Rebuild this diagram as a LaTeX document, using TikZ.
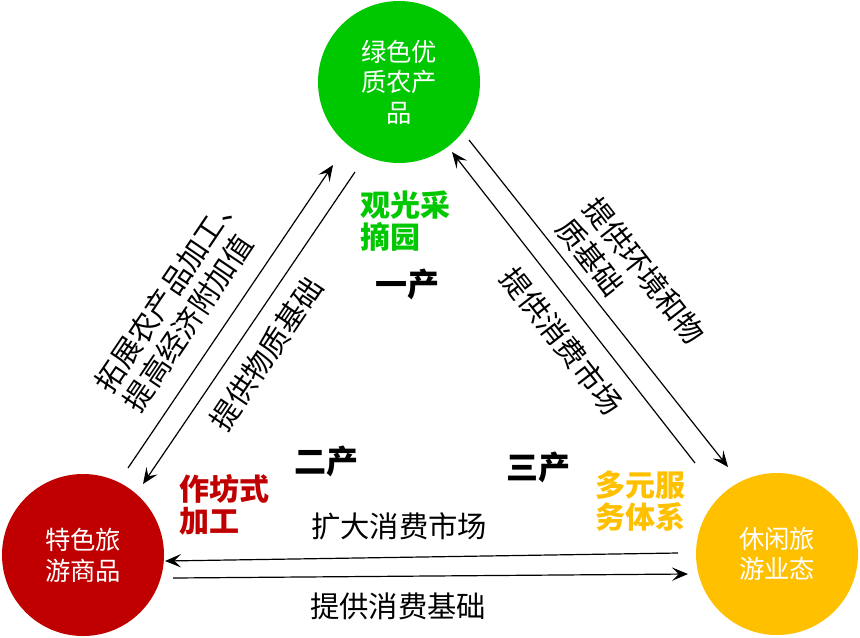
\documentclass[tikz,border=0pt]{standalone}
\usepackage{fontspec}
\setmainfont{Noto Sans CJK SC}
\usepackage{xcolor}
\usepackage{tikz}
\usetikzlibrary{arrows.meta}

\definecolor{lvse}{RGB}{0,200,0}
\definecolor{hongse}{RGB}{192,0,0}
\definecolor{huangse}{RGB}{255,192,0}

\begin{document}
\begin{tikzpicture}[x=0.75pt,y=-0.75pt,
		yuan/.style={circle,minimum size=121.5pt,inner sep=0pt,text=white,align=center,font=\fontsize{19}{23}\selectfont},
		jiantou/.style={-{Stealth[length=12pt,width=10pt,inset=5pt]},line width=0.9pt},
		shuoming/.style={align=left,font=\fontsize{22}{25.5}\selectfont},
		tedian/.style={align=left,font=\bfseries\fontsize{22.5}{24}\selectfont},
		chanye/.style={font=\bfseries\fontsize{24}{24}\selectfont}]
		\useasboundingbox (0,0) rectangle (860,637);
		% three circles
		\node[yuan,fill=lvse] (nongchanpin) at (399,82) {绿色优\\质农产\\品};
		\node[yuan,fill=hongse] (shangpin) at (83,555) {特色旅\\游商品};
		\node[yuan,fill=huangse] (yetai) at (777,554) {休闲旅\\游业态};
		% arrow ends
		\coordinate (a1) at (128,468);
		\coordinate (b1) at (333,165);
		\coordinate (a2) at (355,172);
		\coordinate (b2) at (143,484);
		\coordinate (a3) at (695,463);
		\coordinate (b3) at (452,152);
		\coordinate (a4) at (469,140);
		\coordinate (b4) at (728,467);
		\coordinate (a5) at (678,553);
		\coordinate (b5) at (165,561);
		\coordinate (a6) at (173,578);
		\coordinate (b6) at (688,574);
		\draw[jiantou] (a1) -- (b1);
		\draw[jiantou] (a2) -- (b2);
		\draw[jiantou] (a3) -- (b3);
		\draw[jiantou] (a4) -- (b4);
		\draw[jiantou] (a5) -- (b5);
		\draw[jiantou] (a6) -- (b6);
		% labels on the arrows
		\node[shuoming,rotate=56] (jiagong) at (182,301) {拓展农产品加工、\\提高经济附加值};
		\node[shuoming,rotate=56] (wuzhi) at (266,354) {提供物质基础};
		\node[shuoming,rotate=-52] (huanjing) at (631,281) {提供环境和物\\质基础};
		\node[shuoming,rotate=-52] (shichang) at (562,341) {提供消费市场};
		\node[shuoming] (kuoda) at (399,526) {扩大消费市场};
		\node[shuoming] (jichu) at (398,606) {提供消费基础};
		% industries
		\node[chanye] (yichan) at (407,284) {一产};
		\node[chanye] (erchan) at (326,461) {二产};
		\node[chanye] (sanchan) at (538,467) {三产};
		\node[tedian,text=lvse] (caizhai) at (405,221) {观光采\\摘园};
		\node[tedian,text=hongse] (zuofang) at (224,505) {作坊式\\加工};
		\node[tedian,text=huangse] (fuwu) at (640,501) {多元服\\务体系};
	\end{tikzpicture}
\end{document}
